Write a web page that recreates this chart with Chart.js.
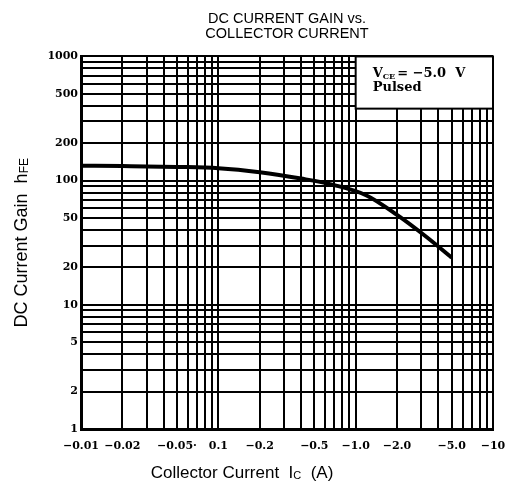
<!DOCTYPE html>
<html>
<head>
<meta charset="utf-8">
<script src="https://cdn.jsdelivr.net/npm/chart.js@4.4.0/dist/chart.umd.min.js"></script>
<style>
  html, body { margin: 0; padding: 0; background: #fff; }
  #wrap { width: 506px; height: 486px; }
</style>
</head>
<body>
<div id="wrap"><canvas id="gain"></canvas></div>
<script>
// collector current (A, shown negative on the sheet) vs DC current gain
var current_a = [0.01, 0.02, 0.05, 0.1, 0.2, 0.4, 0.7, 1.2, 2.0, 3.3, 5.0];
var hfe = [132, 131, 129, 126, 117, 104, 92, 76, 53, 35, 24];

var x_tick_values = [0.01, 0.02, 0.05, 0.1, 0.2, 0.5, 1, 2, 5, 10];
var x_tick_labels = ["−0.01", "−0.02", "−0.05·", "0.1", "−0.2", "−0.5", "−1.0", "−2.0", "−5.0", "−10"];

var y_tick_values = [1, 2, 5, 10, 20, 50, 100, 200, 500, 1000];
var y_tick_labels = ["1", "2", "5", "10", "20", "50", "100", "200", "500", "1000"];

var chart_title = ["DC CURRENT GAIN vs.", "COLLECTOR CURRENT"];
var note_lines = ["V", "CE", "= −5.0  V", "Pulsed"];

// note box corner values (x from 1 A to the right edge, y down to ~380)
var note_x_from = 1;
var note_y_to = 380;

function logGrid(min, max) {
  var out = [];
  for (var e = Math.round(Math.log10(min)); e < Math.round(Math.log10(max)); e++) {
    for (var d = 1; d < 10; d++) {
      out.push(parseFloat((d * Math.pow(10, e)).toPrecision(3)));
    }
  }
  out.push(max);
  return out;
}

function labelFor(values, labels, v) {
  for (var i = 0; i < values.length; i++) {
    if (Math.abs(values[i] - v) / values[i] < 1e-6) return labels[i];
  }
  return "";
}

const serif = { family: "DejaVu Serif", size: 11, weight: "bold" };

const extras = {
  id: "extras",
  afterDatasetsDraw: function (chart) {
    const ctx = chart.ctx;
    const xs = chart.scales.x;
    const ys = chart.scales.y;
    const area = chart.chartArea;

    // note box
    var bl = xs.getPixelForValue(note_x_from);
    var bb = ys.getPixelForValue(note_y_to);
    ctx.save();
    ctx.fillStyle = "#fff";
    ctx.fillRect(bl, area.top, area.right - bl, bb - area.top);
    ctx.strokeStyle = "#000";
    ctx.lineWidth = 2;
    ctx.strokeRect(bl, area.top, area.right - bl, bb - area.top);

    ctx.fillStyle = "#000";
    ctx.textBaseline = "middle";
    ctx.font = "bold 13px 'DejaVu Serif'";
    var tx = bl + 17;
    var ty = area.top + 17;
    ctx.fillText(note_lines[0], tx, ty);
    tx += ctx.measureText(note_lines[0]).width;
    ctx.font = "bold 8px 'DejaVu Serif'";
    ctx.fillText(note_lines[1], tx, ty + 3);
    tx += ctx.measureText(note_lines[1]).width + 2;
    ctx.font = "bold 13px 'DejaVu Serif'";
    ctx.fillText(note_lines[2], tx, ty);
    ctx.fillText(note_lines[3], bl + 17, ty + 14);

    // y axis title, rotated
    ctx.translate(22, (area.top + area.bottom) / 2);
    ctx.rotate(-Math.PI / 2);
    ctx.font = "18px 'Liberation Sans'";
    var main = "DC Current Gain  h";
    var w1 = ctx.measureText(main).width;
    ctx.font = "12px 'Liberation Sans'";
    var w2 = ctx.measureText("FE").width;
    var sx = -(w1 + w2) / 2;
    ctx.font = "18px 'Liberation Sans'";
    ctx.fillText(main, sx, 0);
    ctx.font = "12px 'Liberation Sans'";
    ctx.fillText("FE", sx + w1, 3);
    ctx.restore();

    // x axis title
    ctx.save();
    ctx.fillStyle = "#000";
    ctx.textBaseline = "middle";
    ctx.font = "17px 'Liberation Sans'";
    var p1 = "Collector Current  I";
    var p3 = "  (A)";
    var a1 = ctx.measureText(p1).width;
    var a3 = ctx.measureText(p3).width;
    ctx.font = "11px 'Liberation Sans'";
    var a2 = ctx.measureText("C").width;
    var cx = 242 - (a1 + a2 + a3) / 2;
    var cy = 473;
    ctx.font = "17px 'Liberation Sans'";
    ctx.fillText(p1, cx, cy);
    ctx.font = "11px 'Liberation Sans'";
    ctx.fillText("C", cx + a1, cy + 3);
    ctx.font = "17px 'Liberation Sans'";
    ctx.fillText(p3, cx + a1 + a2, cy);
    ctx.restore();
  },
};

const ctx = document.getElementById("gain");

const gainChart = new Chart(ctx, {
  type: "scatter",
  data: {
    datasets: [
      {
        label: "hFE",
        data: current_a.map(function (c, i) { return { x: c, y: hfe[i] }; }),
        showLine: true,
        borderColor: "#000",
        borderWidth: 4,
        pointRadius: 0,
        cubicInterpolationMode: "monotone",
      },
    ],
  },
  options: {
    responsive: true,
    maintainAspectRatio: false,
    animation: false,
    layout: { padding: { left: 0, right: 13, top: 0, bottom: 0 } },
    plugins: {
      legend: { display: false },
      tooltip: { enabled: false },
      title: {
        display: true,
        fullSize: false,
        text: chart_title,
        color: "#000",
        font: { family: "Liberation Sans", size: 14.5, weight: "normal", lineHeight: 1.05 },
        padding: { top: 11, bottom: 15 },
      },
    },
    scales: {
      x: {
        type: "logarithmic",
        min: 0.01,
        max: 10,
        afterBuildTicks: function (scale) {
          scale.ticks = logGrid(0.01, 10).map(function (v) { return { value: v }; });
        },
        afterFit: function (scale) {
          scale.height = 57;
          scale.paddingLeft = 0;
          scale.paddingRight = 0;
        },
        grid: { color: "#000", lineWidth: 2, drawTicks: false },
        border: { color: "#000", width: 3 },
        ticks: {
          autoSkip: false,
          maxRotation: 0,
          padding: 11,
          color: "#000",
          font: serif,
          callback: function (v) { return labelFor(x_tick_values, x_tick_labels, v); },
        },
      },
      y: {
        type: "logarithmic",
        min: 1,
        max: 1000,
        afterBuildTicks: function (scale) {
          scale.ticks = logGrid(1, 1000).map(function (v) { return { value: v }; });
        },
        afterFit: function (scale) {
          scale.width = 81;
          scale.paddingTop = 0;
          scale.paddingBottom = 0;
        },
        grid: { color: "#000", lineWidth: 2, drawTicks: false },
        border: { color: "#000", width: 3 },
        ticks: {
          autoSkip: false,
          padding: 3,
          color: "#000",
          font: serif,
          callback: function (v) { return labelFor(y_tick_values, y_tick_labels, v); },
        },
      },
    },
  },
  plugins: [extras],
});
</script>
</body>
</html>
